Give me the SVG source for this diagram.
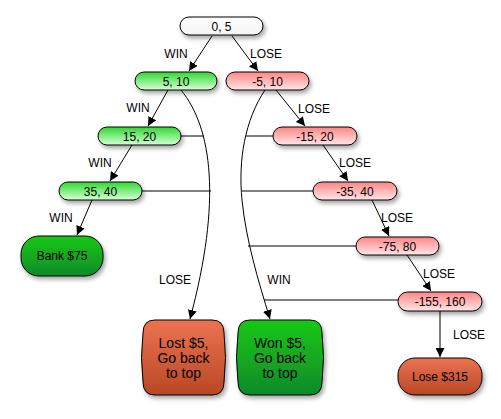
<svg xmlns="http://www.w3.org/2000/svg" width="501" height="419" viewBox="0 0 501 419">
<defs>
<linearGradient id="gG" x1="0" y1="0" x2="0" y2="1"><stop offset="0" stop-color="#2fd82f"/><stop offset="1" stop-color="#d8ffd8"/></linearGradient>
<linearGradient id="gR" x1="0" y1="0" x2="0" y2="1"><stop offset="0" stop-color="#ff8585"/><stop offset="1" stop-color="#ffe6e6"/></linearGradient>
<linearGradient id="gW" x1="0" y1="0" x2="0" y2="1"><stop offset="0" stop-color="#ffffff"/><stop offset="1" stop-color="#f4f4f4"/></linearGradient>
<linearGradient id="gBG" x1="0" y1="0" x2="0" y2="1"><stop offset="0" stop-color="#16c816"/><stop offset="1" stop-color="#108a2a"/></linearGradient>
<linearGradient id="gBR" x1="0" y1="0" x2="0" y2="1"><stop offset="0" stop-color="#ec7352"/><stop offset="1" stop-color="#b84824"/></linearGradient>
<filter id="sh" x="-20%" y="-30%" width="150%" height="180%"><feDropShadow dx="2" dy="3" stdDeviation="2" flood-color="#000" flood-opacity="0.35"/></filter>
<marker id="ar" viewBox="0 0 10 10" refX="10" refY="5" markerWidth="9" markerHeight="9" markerUnits="userSpaceOnUse" orient="auto"><path d="M0,0 L10,5 L0,10 z" fill="#000"/></marker>
</defs>
<style>
.n{stroke:#000;stroke-width:1;filter:url(#sh)}
.t{font-family:"Liberation Sans",Arial,sans-serif;font-size:12px;fill:#000;text-anchor:middle}
.b{font-family:"Liberation Sans",Arial,sans-serif;font-size:14px;fill:#000;text-anchor:middle}
.l{font-family:"Liberation Sans",Arial,sans-serif;font-size:12px;fill:#000;text-anchor:middle}
.e{fill:none;stroke:#000;stroke-width:1}
.a{marker-end:url(#ar)}
</style>
<rect width="501" height="419" fill="#fff"/>
<g id="connectors">
<line class="e a" x1="212" y1="36" x2="189" y2="71"/>
<line class="e a" x1="232" y1="36" x2="258" y2="71"/>
<line class="e a" x1="168" y1="90" x2="148" y2="126"/>
<line class="e a" x1="132" y1="145" x2="110" y2="181"/>
<line class="e a" x1="92" y1="200" x2="77" y2="235"/>
<line class="e a" x1="276" y1="90" x2="305" y2="126"/>
<line class="e a" x1="323" y1="145" x2="348" y2="181"/>
<line class="e a" x1="372" y1="200" x2="389" y2="236"/>
<line class="e a" x1="407" y1="255" x2="431" y2="291"/>
<line class="e a" x1="440" y1="311" x2="440" y2="357"/>
<path class="e a" d="M181,90 C212,128 222,200 190,319"/>
<path class="e a" d="M265,90 C245,120 238,160 242,200 C246,240 258,280 270,319"/>
<line class="e" x1="181" y1="136" x2="204" y2="136"/>
<line class="e" x1="142" y1="191" x2="211" y2="191"/>
<line class="e" x1="246" y1="136" x2="273" y2="136"/>
<line class="e" x1="242" y1="191" x2="313" y2="191"/>
<line class="e" x1="248" y1="246" x2="356" y2="246"/>
<line class="e" x1="264" y1="300" x2="398" y2="300"/>
<text class="l" x="176" y="58">WIN</text>
<text class="l" x="266" y="58">LOSE</text>
<text class="l" x="138" y="112">WIN</text>
<text class="l" x="100" y="167">WIN</text>
<text class="l" x="61" y="222">WIN</text>
<text class="l" x="314" y="113">LOSE</text>
<text class="l" x="355" y="167">LOSE</text>
<text class="l" x="397" y="222">LOSE</text>
<text class="l" x="439" y="278">LOSE</text>
<text class="l" x="469" y="339">LOSE</text>
<text class="l" x="175" y="284">LOSE</text>
<text class="l" x="279" y="284">WIN</text>
</g>
<g id="n0"><rect class="n" x="180" y="17" width="83" height="18" rx="9" fill="url(#gW)"/><text class="t" x="221.5" y="30.5">0, 5</text></g>
<g id="nW1"><rect class="n" x="135" y="72" width="82" height="18" rx="9" fill="url(#gG)"/><text class="t" x="176" y="85.5">5, 10</text></g>
<g id="nL1"><rect class="n" x="226" y="72" width="83" height="18" rx="9" fill="url(#gR)"/><text class="t" x="267.5" y="85.5">-5, 10</text></g>
<g id="nW2"><rect class="n" x="98" y="127" width="83" height="18" rx="9" fill="url(#gG)"/><text class="t" x="139.5" y="140.5">15, 20</text></g>
<g id="nW3"><rect class="n" x="59" y="182" width="83" height="18" rx="9" fill="url(#gG)"/><text class="t" x="100.5" y="195.5">35, 40</text></g>
<g id="nL2"><rect class="n" x="273" y="127" width="84" height="18" rx="9" fill="url(#gR)"/><text class="t" x="315" y="140.5">-15, 20</text></g>
<g id="nL3"><rect class="n" x="313" y="182" width="84" height="18" rx="9" fill="url(#gR)"/><text class="t" x="355" y="195.5">-35, 40</text></g>
<g id="nL4"><rect class="n" x="356" y="237" width="83" height="18" rx="9" fill="url(#gR)"/><text class="t" x="397.5" y="250.5">-75, 80</text></g>
<g id="nL5"><rect class="n" x="398" y="292" width="84" height="19" rx="9.5" fill="url(#gR)"/><text class="t" x="440" y="305.5">-155, 160</text></g>
<g id="bank"><rect class="n" x="21" y="236" width="82" height="40" rx="18" fill="url(#gBG)"/><text class="t" x="62" y="260">Bank $75</text></g>
<g id="lose315"><rect class="n" x="398" y="358" width="84" height="37" rx="17" fill="url(#gBR)"/><text class="t" x="440" y="381">Lose $315</text></g>
<g id="lost5"><path class="n" fill="url(#gBR)" d="M155,320 H212 Q224,320 224,333 Q227,357.5 224,382 Q224,395 212,395 H155 Q143,395 143,382 Q140,357.5 143,333 Q143,320 155,320 Z"/><text class="b" x="183.5" y="348">Lost $5,</text><text class="b" x="183.5" y="363">Go back</text><text class="b" x="183.5" y="378">to top</text></g>
<g id="won5"><path class="n" fill="url(#gBG)" d="M250,320 H310 Q322,320 322,333 Q325,357.5 322,382 Q322,395 310,395 H250 Q238,395 238,382 Q235,357.5 238,333 Q238,320 250,320 Z"/><text class="b" x="280" y="348">Won $5,</text><text class="b" x="280" y="363">Go back</text><text class="b" x="280" y="378">to top</text></g>
</svg>
